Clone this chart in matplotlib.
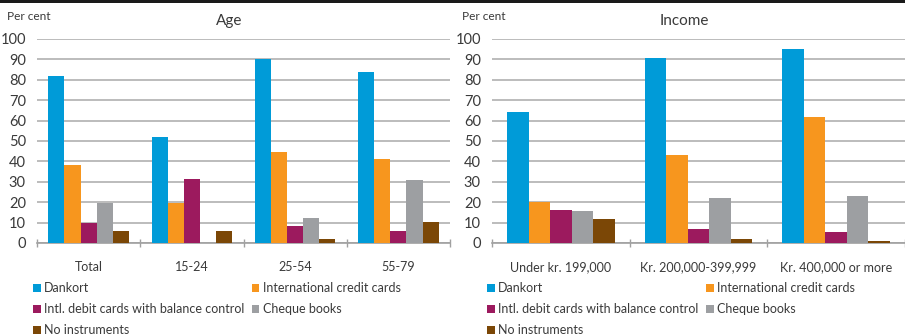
import matplotlib.pyplot as plt
from matplotlib.patches import Patch, Rectangle
import numpy as np

plt.rcParams['font.family'] = ['Lato', 'DejaVu Sans']

series = ["Dankort", "International credit cards",
          "Intl. debit cards with balance control", "Cheque books", "No instruments"]
colors = ["#009bd8", "#f7961e", "#9c1a5e", "#9d9fa2", "#7b4706"]

age_groups = ["Total", "15-24", "25-54", "55-79"]
age_values = [
    [82.0, 52.0, 90.3, 84.0],   # Dankort
    [38.3, 19.8, 44.7, 41.2],   # International credit cards
    [9.8, 31.4, 8.3, 6.1],      # Intl. debit cards
    [19.8, 0.0, 12.3, 30.9],    # Cheque books
    [6.1, 6.1, 2.0, 10.3],      # No instruments
]

income_groups = ["Under kr. 199,000", "Kr. 200,000-399,999", "Kr. 400,000 or more"]
income_values = [
    [64.3, 90.8, 95.3],
    [20.1, 43.2, 61.9],
    [16.2, 6.9, 5.4],
    [15.7, 22.1, 23.1],
    [11.8, 2.0, 1.0],
]

W, H = 905, 336
fig = plt.figure(figsize=(W / 100, H / 100), dpi=100)
txt = "#3a3a3a"
grid = "#bcbcbc"


def px(x0, y0, x1, y1):
    return [x0 / W, 1 - y1 / H, (x1 - x0) / W, (y1 - y0) / H]


def panel(rect, groups, values, title, title_x, percent_x, legend_x, colspace):
    ax = fig.add_axes(rect)
    n = len(groups)
    bw = 0.78 / len(series)
    x = np.arange(n)
    for i, (name, vals) in enumerate(zip(series, values)):
        ax.bar(x + (i - 2) * bw, vals, width=bw, color=colors[i], zorder=3)
    ax.set_xlim(-0.5, n - 0.5)
    ax.set_ylim(0, 100)
    ax.set_yticks(range(0, 101, 10))
    ax.set_xticks(x)
    ax.set_xticklabels(groups)
    ax.set_xticks(np.arange(n + 1) - 0.5, minor=True)
    ax.grid(axis="y", color=grid, lw=1.4, zorder=0)
    for s in ["top", "right", "left"]:
        ax.spines[s].set_visible(False)
    ax.spines["bottom"].set_color("#a0a0a0")
    ax.spines["bottom"].set_linewidth(1.2)
    ax.tick_params(axis="x", which="major", length=0, pad=13, labelsize=9, colors=txt)
    ax.tick_params(axis="x", which="minor", length=6, direction="inout", color="#a0a0a0", width=1)
    ax.tick_params(axis="y", length=0, pad=8, labelsize=10.5, colors=txt)
    fig.text(title_x / W, 1 - 21 / H, title, ha="center", va="center", fontsize=11, color=txt)
    fig.text(percent_x / W, 1 - 17 / H, "Per cent", ha="left", va="center", fontsize=8.6, color=txt)
    handles = [Patch(facecolor=c, edgecolor="none") for c in colors]
    order = [0, 2, 4, 1, 3]
    fig.legend([handles[k] for k in order], [series[k] for k in order],
               loc="upper left", bbox_to_anchor=(legend_x / W, 1 - 282 / H),
               ncol=2, frameon=False, fontsize=9, handlelength=0.6, handleheight=0.6,
               handletextpad=0.3, labelspacing=0.72, columnspacing=colspace,
               borderpad=0, borderaxespad=0, labelcolor=txt)
    return ax


panel(px(37, 39, 450, 243), age_groups, age_values, "Age", 229, 7, 33, 0.55)
panel(px(492, 39, 905, 243), income_groups, income_values, "Income", 684, 462, 487, 0.6)

fig.add_artist(Rectangle((0, 1 - 3 / H), 1, 3 / H, transform=fig.transFigure,
                         facecolor="#1a1a1a", edgecolor="none"))

plt.savefig("out.png", dpi=100)
